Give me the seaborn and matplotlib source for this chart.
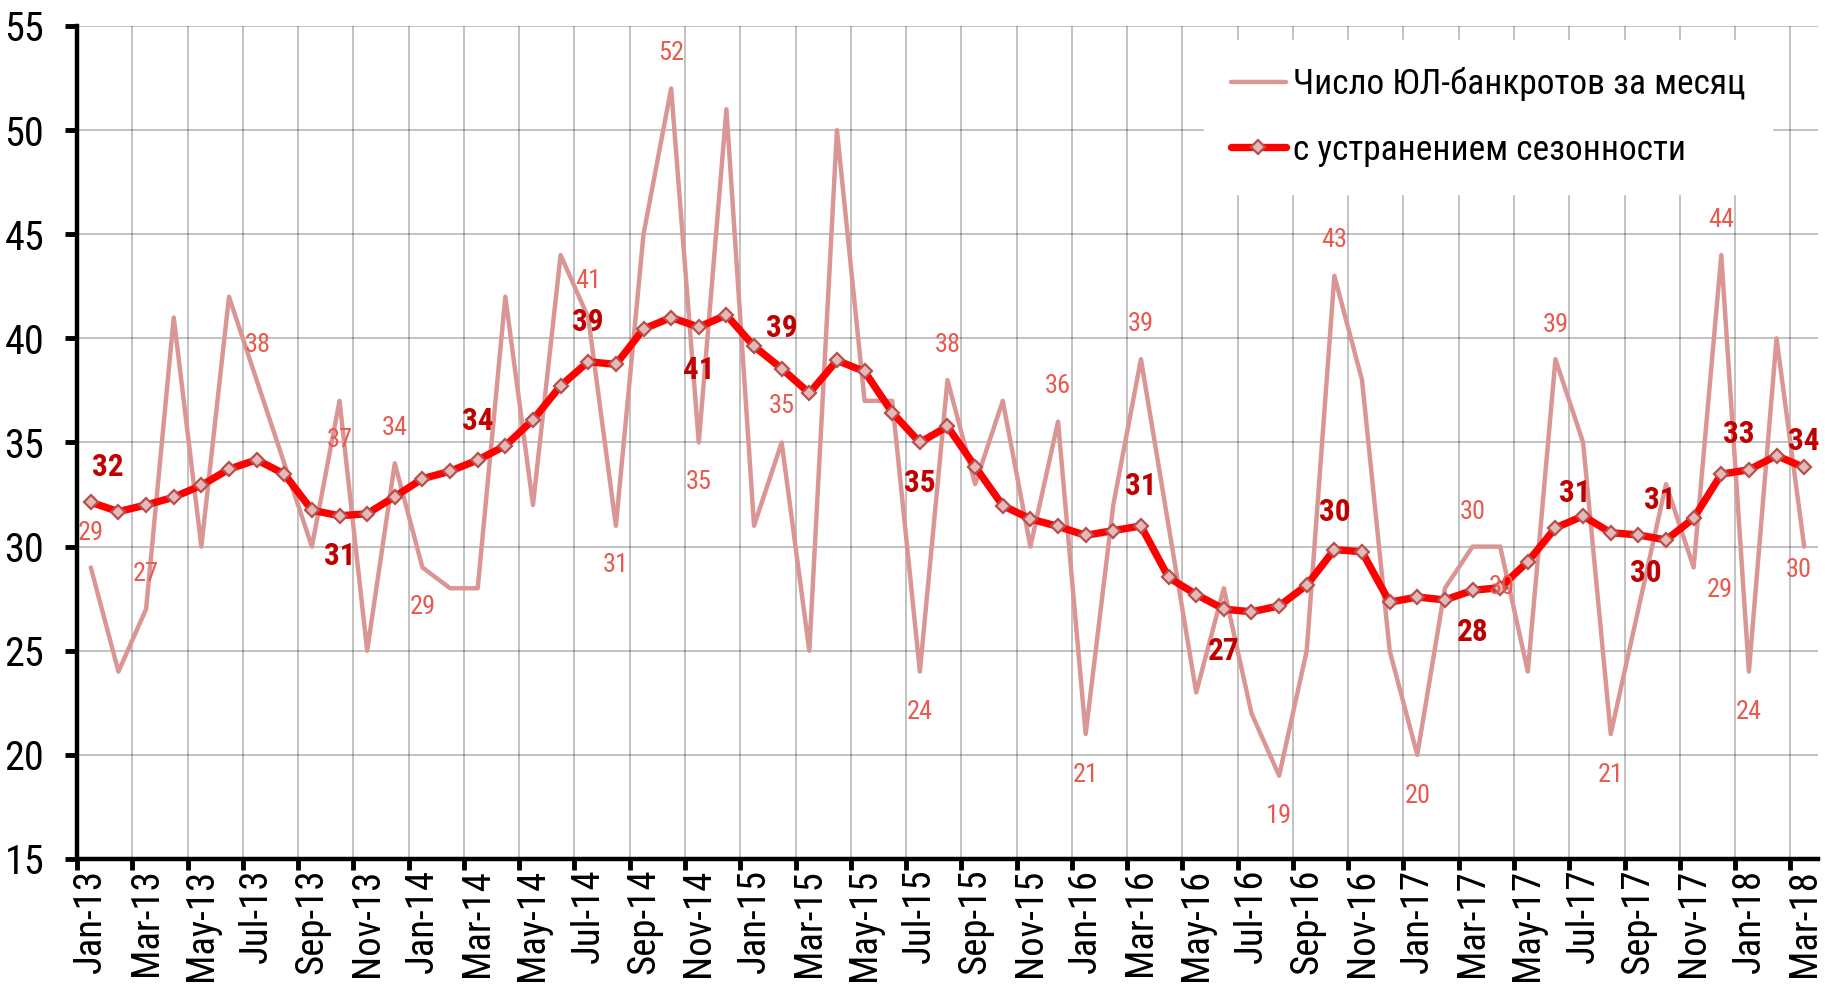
import matplotlib
matplotlib.use("Agg")
import matplotlib.pyplot as plt
import seaborn as sns
import pandas as pd
import numpy as np
from matplotlib import font_manager as fm
from matplotlib.ticker import FixedLocator, NullFormatter, FixedFormatter

# ---------------- data ----------------
months = pd.date_range("2013-01-01", "2018-03-01", freq="MS")
month_labels = [d.strftime("%b-%y") for d in months]

raw_counts = [29, 24, 27, 41, 30, 42, 38, 34, 30, 37, 25, 34,
              29, 28, 28, 42, 32, 44, 41, 31, 45, 52, 35, 51,
              31, 35, 25, 50, 37, 37, 24, 38, 33, 37, 30, 36,
              21, 32, 39, 31, 23, 28, 22, 19, 25, 43, 38, 25,
              20, 28, 30, 30, 24, 39, 35, 21, 27, 33, 29, 44,
              24, 40, 30]

seasonal = [32.13, 31.68, 32.00, 32.37, 32.94, 33.72, 34.17, 33.49, 31.75, 31.48, 31.58, 32.40,
            33.26, 33.62, 34.16, 34.84, 36.09, 37.72, 38.88, 38.75, 40.45, 41.00, 40.54, 41.12,
            39.62, 38.55, 37.37, 38.94, 38.41, 36.44, 35.00, 35.77, 33.84, 31.97, 31.33, 30.97,
            30.54, 30.77, 30.99, 28.52, 27.70, 27.00, 26.87, 27.15, 28.15, 29.86, 29.75, 27.33,
            27.58, 27.44, 27.90, 28.03, 29.28, 30.90, 31.47, 30.67, 30.56, 30.32, 31.36, 33.48,
            33.69, 34.37, 33.80]

series_names = ["Число ЮЛ-банкротов за месяц", "с устранением сезонности"]

# indices of labelled points
raw_label_idx = [0, 2, 6, 9, 11, 12, 18, 19, 21, 22, 25, 30, 31, 35, 36, 38,
                 43, 45, 48, 50, 51, 53, 55, 58, 59, 60, 62]
sa_label_idx = [0, 9, 14, 18, 22, 25, 30, 38, 41, 45, 50, 54, 57, 58, 59, 62]

# label placement offsets (categories, value units) -- styling only
raw_label_off = {0: (0, 1.66), 2: (0, 1.7), 6: (0.05, 1.7), 9: (0, -1.86), 11: (0, 1.68),
                 12: (0, -1.92), 18: (0, 1.74), 19: (0, -1.86), 21: (0, 1.72), 22: (0, -1.9),
                 25: (0, 1.73), 30: (0, -1.94), 31: (0, 1.7), 35: (0, 1.7), 36: (0, -1.95),
                 38: (0, 1.7), 43: (0, -1.92), 45: (0, 1.7), 48: (0, -1.97), 50: (0, 1.68),
                 51: (0.07, -1.94), 53: (0, 1.66), 55: (0, -1.95), 58: (0.93, -1.1),
                 59: (0, 1.7), 60: (0, -1.94), 62: (-0.2, -1.13)}
sa_label_off = {0: (0.6, 1.67), 9: (0, -1.93), 14: (0, 1.88), 18: (0, 1.89), 22: (0, -2.05),
                25: (0, 1.95), 30: (0, -1.96), 38: (0, 1.9), 41: (0, -2.03), 45: (0, 1.82),
                50: (0, -1.99), 54: (-0.3, 1.12), 57: (-0.72, -1.57), 58: (-1.24, 0.88),
                59: (0.63, 1.93), 62: (0, 1.28)}

# ---------------- style ----------------
sns.set_theme(style="white")
avail = {f.name for f in fm.fontManager.ttflist}
prefs = ["Liberation Sans Narrow", "Arial Narrow", "Roboto Condensed", "Fira Sans Condensed",
         "Ubuntu Condensed", "PT Sans Narrow", "IBM Plex Sans Condensed", "Liberation Sans"]
narrow = next((p for p in prefs if p in avail), "DejaVu Sans")
plt.rcParams["font.family"] = [narrow, "DejaVu Sans"]

RAW_C = "#d99694"
SA_C = "#ff0000"
RAW_LAB_C = "#e8594f"
SA_LAB_C = "#c00000"

fig = plt.figure(figsize=(18.25, 9.85), dpi=100)
ax = fig.add_axes([0.04219, 0.12792, 0.95397, 0.84569])

df = pd.DataFrame({"idx": np.arange(len(months)), "raw": raw_counts, "sa": seasonal})

sns.lineplot(data=df, x="idx", y="raw", ax=ax, color=RAW_C, linewidth=3.2,
             label=series_names[0], zorder=3)
sns.lineplot(data=df, x="idx", y="sa", ax=ax, color=SA_C, linewidth=5.3,
             marker="D", markersize=7.2, markerfacecolor="#e6b9b8",
             markeredgecolor="#b5504d", markeredgewidth=1.6,
             label=series_names[1], zorder=4)

n = len(months)
ax.set_xlim(-0.5, n - 0.5)
ax.set_ylim(15, 55)

# x axis: tick marks at category boundaries every 2, labels at centres
bounds = np.arange(-0.5, n - 0.5, 2)
ax.xaxis.set_major_locator(FixedLocator(bounds))
ax.xaxis.set_major_formatter(NullFormatter())
centres = np.arange(0, n, 2)
ax.xaxis.set_minor_locator(FixedLocator(centres))
ax.xaxis.set_minor_formatter(FixedFormatter(month_labels[::2]))
ax.tick_params(axis="x", which="major", direction="out", length=8, width=3.5,
               color="black", bottom=True)
ax.tick_params(axis="x", which="minor", length=0, pad=7, labelsize=28,
               labelrotation=90, bottom=True, labelcolor="black")

ax.set_yticks(np.arange(15, 56, 5))
ax.tick_params(axis="y", which="major", direction="out", length=8.5, width=3.5,
               color="black", pad=15, labelsize=29, left=True, labelcolor="black")

ax.grid(True, which="major", axis="both", color="black", alpha=0.24, linewidth=1.4)
ax.set_axisbelow(True)

for s in ["top", "right"]:
    ax.spines[s].set_visible(False)
for s in ["left", "bottom"]:
    ax.spines[s].set_color("black")
    ax.spines[s].set_linewidth(3.2)
    ax.spines[s].set_zorder(6)

ax.set_xlabel("")
ax.set_ylabel("")

# data labels
for i in raw_label_idx:
    dx, dy = raw_label_off[i]
    ax.text(i + dx, raw_counts[i] + dy, f"{raw_counts[i]:.0f}", color=RAW_LAB_C,
            fontsize=19, ha="center", va="center", zorder=7)
for i in sa_label_idx:
    dx, dy = sa_label_off[i]
    ax.text(i + dx, seasonal[i] + dy, f"{round(seasonal[i]):.0f}", color=SA_LAB_C,
            fontsize=22.5, fontweight="bold", ha="center", va="center", zorder=7)

leg = ax.legend(loc="upper left", bbox_to_anchor=(0.6474, 0.983), borderaxespad=0,
                frameon=True, fancybox=False, framealpha=1, edgecolor="white",
                facecolor="white", fontsize=25.5, handlelength=1.55, handletextpad=0.2,
                borderpad=0.76, labelspacing=0.92)
leg.set_zorder(8)
for t in leg.get_texts():
    t.set_color("black")

fig.savefig("out.png", dpi=100)
